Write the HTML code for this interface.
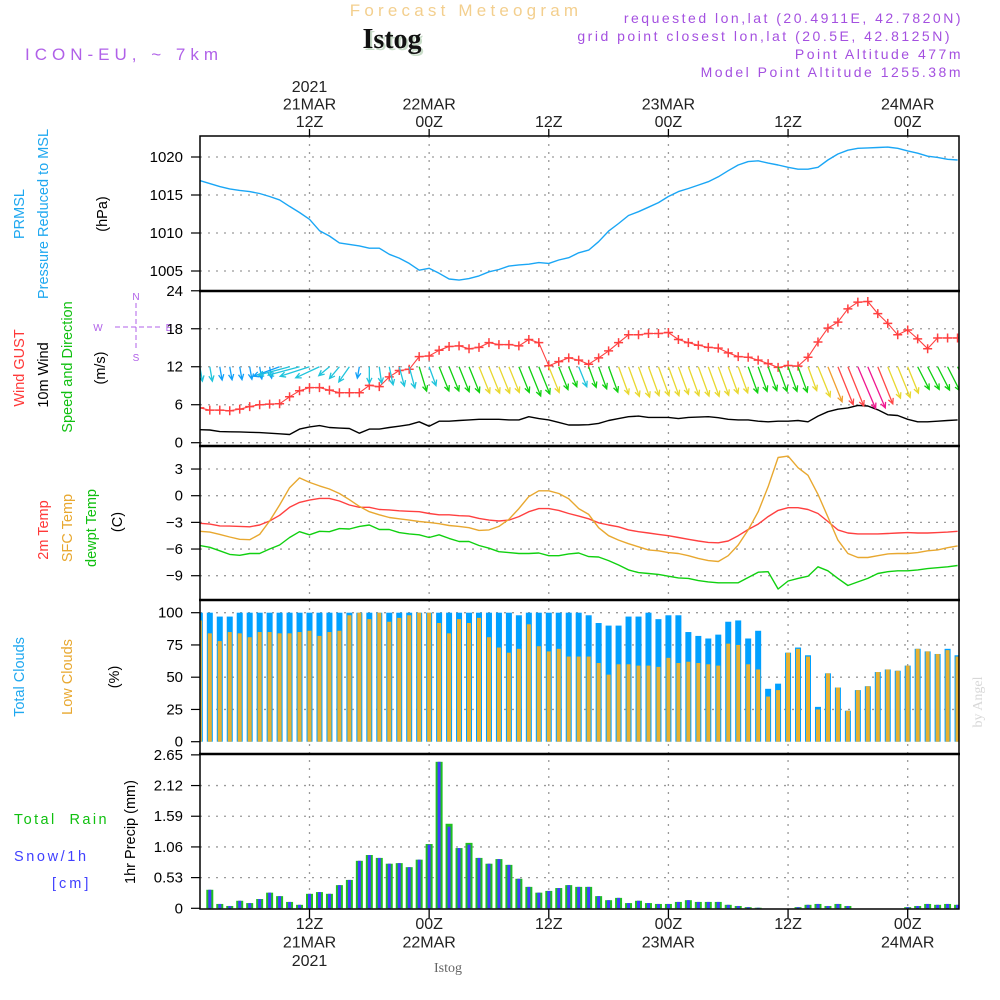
<!DOCTYPE html>
<html><head><meta charset="utf-8">
<style>
html,body{margin:0;padding:0;background:#fff;}
svg{display:block;font-family:"Liberation Sans",sans-serif;}
</style></head>
<body>
<svg id="chart" width="1000" height="1000" viewBox="0 0 1000 1000" xmlns="http://www.w3.org/2000/svg">
<defs><clipPath id="plotclip"><rect x="200" y="136" width="759" height="773"/></clipPath></defs>
<rect x="0" y="0" width="1000" height="1000" fill="#fff"/>
<text x="466" y="16" text-anchor="middle" font-size="17" fill="#f3cf8e" letter-spacing="4.2">Forecast Meteogram</text>
<text x="394" y="50" text-anchor="middle" font-size="28" font-weight="bold" font-family="Liberation Serif,serif" fill="#c8dcc8">Istog</text>
<text x="392" y="48" text-anchor="middle" font-size="28" font-weight="bold" font-family="Liberation Serif,serif" fill="#111">Istog</text>
<text x="25" y="60" font-size="17" fill="#b060e8" letter-spacing="5">ICON-EU, ~ 7km</text>
<g font-size="14" fill="#a450e0" text-anchor="end" letter-spacing="2.5">
<text x="963" y="23">requested lon,lat (20.4911E, 42.7820N)</text>
<text x="952" y="41">grid point closest lon,lat (20.5E, 42.8125N)</text>
<text x="963" y="59">Point Altitude 477m</text>
<text x="963" y="77">Model Point Altitude 1255.38m</text>
</g>
<g font-size="14.5">
<text transform="translate(24,214) rotate(-90)" text-anchor="middle" fill="#1fa8f0">PRMSL</text>
<text transform="translate(48,214) rotate(-90)" text-anchor="middle" fill="#1fa8f0">Pressure Reduced to MSL</text>
<text transform="translate(107,214) rotate(-90)" text-anchor="middle" fill="#000">(hPa)</text>
<text transform="translate(24,368) rotate(-90)" text-anchor="middle" fill="#ff3838">Wind GUST</text>
<text transform="translate(48,375) rotate(-90)" text-anchor="middle" fill="#000">10m Wind</text>
<text transform="translate(72,367) rotate(-90)" text-anchor="middle" fill="#10c010">Speed and Direction</text>
<text transform="translate(105,368) rotate(-90)" text-anchor="middle" fill="#000">(m/s)</text>
<g fill="#b060e8" stroke="none" font-size="10" text-anchor="middle">
<line x1="115" y1="327" x2="160" y2="327" stroke="#b060e8" stroke-width="1" stroke-dasharray="5,3"/>
<line x1="136" y1="303" x2="136" y2="350" stroke="#b060e8" stroke-width="1" stroke-dasharray="5,3"/>
<text x="136" y="300">N</text>
<text x="136" y="361">S</text>
<text x="98" y="331">W</text>
<text x="169" y="331">E</text>
</g>
<text transform="translate(48,530) rotate(-90)" text-anchor="middle" fill="#ff3838">2m Temp</text>
<text transform="translate(72,528) rotate(-90)" text-anchor="middle" fill="#e8a830">SFC Temp</text>
<text transform="translate(96,528) rotate(-90)" text-anchor="middle" fill="#10c010">dewpt Temp</text>
<text transform="translate(122,522) rotate(-90)" text-anchor="middle" fill="#000">(C)</text>
<text transform="translate(24,677) rotate(-90)" text-anchor="middle" fill="#1fa8f0">Total Clouds</text>
<text transform="translate(72,677) rotate(-90)" text-anchor="middle" fill="#e8a830">Low Clouds</text>
<text transform="translate(119,677) rotate(-90)" text-anchor="middle" fill="#000">(%)</text>
<text x="14" y="824" fill="#10c010" letter-spacing="2.4">Total&#160;&#160;Rain</text>
<text x="14" y="861" fill="#4040ff" letter-spacing="2.6">Snow/1h</text>
<text x="52" y="888" fill="#4040ff" letter-spacing="3">[cm]</text>
<text transform="translate(135,832) rotate(-90)" text-anchor="middle" fill="#000">1hr Precip (mm)</text>
</g>
<text transform="translate(982,702) rotate(-90)" text-anchor="middle" font-size="14" font-family="Liberation Serif,serif" fill="#d8d8d8">by Angel</text>
<text x="448" y="972" text-anchor="middle" font-size="14" font-family="Liberation Serif,serif" fill="#666">Istog</text>
<g id="layer"></g>
</svg>
<script>
// ---- data (hours since 00Z 21MAR, h = 1..77) ----
const hours = Array.from({length:77},(_, i)=>i+1);
const pressure = [1016.9,1016.5,1016.1,1015.8,1015.6,1015.45,1015.2,1014.8,1014.35,1013.5,
1012.7,1011.8,1010.3,1009.6,1008.7,1008.5,1008.3,1008.0,1008.0,1007.2,
1006.7,1006.0,1005.1,1005.35,1004.7,1003.95,1003.8,1004.0,1004.35,1004.9,
1005.2,1005.65,1005.8,1005.9,1006.1,1006.0,1006.45,1006.75,1007.4,1007.75,
1008.85,1010.25,1011.25,1012.3,1012.8,1013.4,1014.0,1014.8,1015.45,1015.85,
1016.3,1016.75,1017.4,1018.2,1018.95,1019.4,1019.5,1019.2,1018.95,1018.65,
1018.4,1018.4,1018.65,1019.6,1020.4,1020.9,1021.15,1021.2,1021.25,1021.3,
1021.15,1020.8,1020.5,1020.1,1019.95,1019.7,1019.6];
const wind10 = [2.05,2.0,1.75,1.72,1.7,1.65,1.6,1.5,1.4,1.3,
2.15,2.5,2.7,2.4,2.3,2.25,1.5,2.15,2.15,2.4,
2.6,2.85,3.3,2.6,3.4,3.4,3.5,3.6,3.7,3.7,
3.7,3.6,3.6,4.1,3.8,3.6,3.2,2.8,2.8,2.85,
3.05,3.5,3.8,4.1,4.2,4.0,4.0,4.0,3.8,4.0,
4.05,4.1,3.95,3.7,3.6,3.6,3.4,3.3,3.4,3.4,
3.5,3.3,4.2,4.9,5.3,5.5,5.9,5.8,5.2,4.4,
4.3,3.7,3.3,3.3,3.4,3.5,3.6];
const gust = [5.5,5.15,5.15,5.05,5.3,5.7,6.0,6.1,6.15,7.25,
8.2,8.7,8.7,8.3,7.9,7.9,7.9,9.05,8.85,10.4,
11.4,11.6,13.6,13.7,14.6,15.2,15.3,14.85,15.05,15.8,
15.5,15.5,15.3,16.3,15.8,12.15,12.8,13.4,13.05,12.4,
13.4,14.5,15.8,17.05,17.05,17.25,17.25,17.4,16.3,15.8,
15.4,15.05,14.95,14.2,13.6,13.5,13.05,12.5,11.9,12.2,
12.1,13.5,15.9,18.1,19.05,21.15,22.2,22.3,20.4,18.85,
17.05,17.8,16.4,14.85,16.55,16.55,16.55];
const arrowSpeed = [1.9,1.9,1.75,1.72,1.7,1.65,1.6,1.5,3.6,4.2,
4.2,4.0,3.4,1.8,2.0,2.4,1.5,2.15,2.15,2.4,
2.6,2.85,3.3,2.6,3.4,3.4,3.5,3.6,3.7,3.7,
3.7,3.6,3.6,4.1,3.8,3.6,3.2,2.8,2.8,2.85,
3.05,3.5,3.8,4.1,4.2,4.0,4.0,4.0,3.8,4.0,
4.05,4.1,3.95,3.7,3.6,3.6,3.4,3.3,3.4,3.4,
3.5,3.3,4.2,4.9,5.3,5.5,5.9,5.8,5.2,4.4,
4.3,3.7,3.3,3.3,3.4,3.5,3.6];
const windDir = [10,10,10,10,10,10,10,10,-70,-75,
-75,-72,-65,-50,-40,-35,-10,0,8,12,
15,15,17,20,22,22,22,22,22,22,
22,22,22,22,22,22,22,22,22,20,
20,20,20,20,20,20,20,20,20,20,
20,20,20,20,20,20,20,20,20,20,
20,20,22,22,22,22,23,23,22,22,
22,22,27,27,27,27,27];
const windClass = "ccbbbbbbbcccccccbcccccgcggggyyyygggyggcgggyyyyyyyyyyyyyggggggyyorrmmryyyggggg";
const t2m = [-3.1,-3.2,-3.4,-3.42,-3.45,-3.5,-3.3,-2.85,-2.2,-1.3,
-0.75,-0.5,-0.3,-0.3,-0.6,-1.05,-1.3,-1.3,-1.55,-1.6,
-1.7,-1.75,-1.8,-2.0,-2.15,-2.15,-2.25,-2.3,-2.55,-2.75,
-2.85,-2.75,-2.35,-1.8,-1.45,-1.45,-1.65,-2.0,-2.3,-2.6,
-3.05,-3.3,-3.5,-3.85,-4.05,-4.2,-4.35,-4.5,-4.7,-4.9,
-5.1,-5.25,-5.3,-5.1,-4.5,-3.8,-3.2,-2.35,-1.65,-1.35,
-1.35,-1.55,-2.0,-2.9,-3.85,-4.2,-4.3,-4.3,-4.3,-4.25,
-4.2,-4.15,-4.2,-4.2,-4.15,-4.1,-4.0];
const tsfc = [-4.0,-4.1,-4.35,-4.65,-4.9,-4.95,-4.35,-2.85,-1.05,0.9,
2.0,1.5,1.1,0.75,0.25,-0.45,-1.2,-1.8,-2.15,-2.45,
-2.6,-2.75,-2.9,-3.0,-3.15,-3.35,-3.45,-3.6,-3.9,-3.85,
-3.45,-2.65,-1.45,-0.1,0.55,0.55,0.25,-0.35,-1.45,-2.1,
-3.6,-4.5,-5.0,-5.4,-5.75,-6.1,-6.2,-6.4,-6.5,-6.75,
-7.05,-7.3,-7.4,-6.75,-5.55,-3.85,-1.8,1.0,4.3,4.45,
3.15,2.3,0.15,-2.4,-5.0,-6.5,-6.95,-6.95,-6.75,-6.55,
-6.5,-6.5,-6.4,-6.2,-6.1,-5.85,-5.65];
const tdew = [-5.6,-5.8,-6.2,-6.6,-6.7,-6.5,-6.5,-6.0,-5.55,-4.7,
-4.05,-4.4,-4.0,-4.05,-3.7,-3.75,-3.45,-3.3,-3.8,-3.8,
-4.15,-4.3,-4.4,-4.7,-4.4,-4.8,-5.15,-5.15,-5.6,-5.9,
-6.3,-6.4,-6.5,-6.5,-6.45,-6.75,-6.75,-6.55,-6.45,-6.85,
-6.9,-7.3,-7.8,-8.35,-8.65,-8.75,-8.85,-9.05,-9.25,-9.3,
-9.55,-9.7,-9.8,-9.8,-9.8,-9.2,-8.6,-8.55,-10.5,-9.6,
-9.3,-9.05,-8.0,-8.45,-9.3,-10.1,-9.7,-9.3,-8.75,-8.55,
-8.45,-8.45,-8.35,-8.2,-8.1,-8.0,-7.85];
const totalCloud = [100,100,97,97,100,100,100,100,100,100,
100,100,100,100,100,100,100,100,100,100,
100,100,100,100,100,100,100,100,100,100,
100,100,98,100,100,100,100,100,100,98,
92,90,90,97,97,100,95,98,98,85,
82,80,83,93,94,80,86,41,45,69,
73,67,27,53,42,24,40,43,54,56,
55,59,72,70,68,72,67];
const lowCloud = [94,84,78,85,84,81,85,85,84,84,
85,86,82,85,86,98,100,95,100,93,
96,98,100,100,92,84,95,92,96,81,
73,69,72,91,74,70,72,66,66,66,
61,52,60,60,59,59,58,65,61,62,
61,60,59,76,75,60,56,35,40,69,
72,66,25,53,42,24,40,43,54,56,
55,59,72,70,68,71,66];
const precip = [0,0.32,0.075,0.04,0.13,0.09,0.16,0.27,0.21,0.11,
0.06,0.25,0.28,0.25,0.40,0.49,0.82,0.92,0.87,0.77,
0.78,0.71,0.84,1.11,2.53,1.46,1.04,1.13,0.87,0.77,
0.85,0.75,0.51,0.37,0.27,0.30,0.35,0.40,0.37,0.37,
0.21,0.14,0.18,0.09,0.13,0.09,0.075,0.075,0.11,0.14,
0.11,0.11,0.11,0.06,0.04,0.02,0.01,0,0,0,
0.02,0.06,0.075,0.04,0.075,0.04,0,0,0,0,
0,0.02,0.04,0.075,0.06,0.075,0.06];
const snow = [0,0.32,0.075,0.04,0.13,0.09,0.16,0.27,0.21,0.11,
0.06,0.25,0.28,0.25,0.40,0.49,0.82,0.92,0.87,0.77,
0.78,0.71,0.84,1.10,2.53,1.41,1.04,1.10,0.87,0.77,
0.85,0.75,0.51,0.37,0.27,0.30,0.35,0.40,0.37,0.37,
0.21,0.14,0.18,0.09,0.13,0.09,0.075,0.075,0.11,0.14,
0.11,0.11,0.11,0.06,0.04,0.02,0.01,0,0,0,
0.02,0.06,0.075,0.04,0.075,0.04,0,0,0,0,
0,0.02,0.04,0.075,0.06,0.075,0.06];
const pressTicks = [1005,1010,1015,1020];
const windTicks = [0,6,12,18,24];
const tempTicks = [3,0,-3,-6,-9];
const cloudTicks = [0,25,50,75,100];
const precipTicks = [0,0.53,1.06,1.59,2.12,2.65];
const timeTickHours = [12,24,36,48,60,72];
const topLabels = [["2021","21MAR","12Z"],["","22MAR","00Z"],["","","12Z"],["","23MAR","00Z"],["","","12Z"],["","24MAR","00Z"]];
const bottomLabels = [["12Z","21MAR","2021"],["00Z","22MAR",""],["12Z","",""],["00Z","23MAR",""],["12Z","",""],["00Z","24MAR",""]];

// ---- scales ----
const X = h => 309.5 + (h-12)*9.97;
const yP = p => 271 - (p-1005)*7.6;
const yW = v => 442.7 - v*6.33;
const yT = t => 495.7 - t*8.89;
const yC = c => 741.7 - c*1.29;
const yR = r => 908.3 - r*57.9;
const L = 200, R = 959;
const NS="http://www.w3.org/2000/svg";
const layer=document.getElementById('layer');
function mk(tag,attrs,parent){const e=document.createElementNS(NS,tag);for(const k in attrs)e.setAttribute(k,attrs[k]);(parent||layer).appendChild(e);return e;}

// grid
const grid=mk('g',{stroke:'#9a9a9a','stroke-width':1.3,'stroke-dasharray':'2,6'});


function hgrid(y){mk('line',{x1:L,x2:R,y1:y,y2:y},grid);}
pressTicks.forEach(v=>hgrid(yP(v)));
windTicks.slice(0,4).forEach(v=>hgrid(yW(v)));
tempTicks.forEach(v=>hgrid(yT(v)));
cloudTicks.slice(1).forEach(v=>hgrid(yC(v)));
precipTicks.slice(1,5).forEach(v=>hgrid(yR(v)));
timeTickHours.forEach(h=>mk('line',{x1:X(h),x2:X(h),y1:136,y2:909},grid));

const plot=mk('g',{'clip-path':'url(#plotclip)'});



hours.forEach((h,i)=>{
  const x=X(h);
  const b=mk('rect',{x:x-3,y:yC(totalCloud[i]),width:6,height:yC(0)-yC(totalCloud[i]),fill:'#00a0ff'},plot);
  
  
  const o=mk('rect',{x:x-2,y:yC(lowCloud[i]),width:4,height:yC(0)-yC(lowCloud[i]),fill:'#e8b030'},plot);
  
  
  const g=mk('rect',{x:x-3.5,y:yR(precip[i]),width:7,height:yR(0)-yR(precip[i]),fill:'#20c020'},plot);
  
  
  const s=mk('rect',{x:x-1.5,y:yR(snow[i]),width:3,height:yR(0)-yR(snow[i]),fill:'#4040ff'},plot);
  
  
});

function line(vals,ys,color,name,w){
  const d=vals.map((v,i)=>(i?'L':'M')+X(hours[i]).toFixed(1)+','+ys(v).toFixed(1)).join('');
  const p=mk('path',{d:d,fill:'none',stroke:color,'stroke-width':w||1.4,'stroke-linejoin':'round'},plot);
  
  
  return p;
}
line(pressure,yP,'#1aa6f5','pressure-line');
line(wind10,yW,'#000','wind10-line');
line(gust,yW,'#ff4040','gust-line',1.1);
hours.forEach((h,i)=>{
  const x=X(h),y=yW(gust[i]);
  const m=mk('path',{d:`M${x-4.5},${y}H${x+4.5}M${x},${y-4.5}V${y+4.5}`,stroke:'#ff4040','stroke-width':1.5},plot);
  
  
});
const arrowColors={b:'#10a0f8',c:'#20c4dc',g:'#10d010',y:'#e8d830',o:'#f0a030',r:'#ff4848',m:'#f01890'};
hours.forEach((h,i)=>{
  const x0=X(h),y0=yW(12);
  const len=arrowSpeed[i]*7.7, a=windDir[i]*Math.PI/180;
  const x1=x0+len*Math.sin(a), y1=y0+len*Math.cos(a);
  const back=a+Math.PI, hl=6;
  const p1x=x1+hl*Math.sin(back-0.45), p1y=y1+hl*Math.cos(back-0.45);
  const p2x=x1+hl*Math.sin(back+0.45), p2y=y1+hl*Math.cos(back+0.45);
  const ar=mk('path',{d:`M${x0},${y0}L${x1},${y1}M${p1x},${p1y}L${x1},${y1}L${p2x},${p2y}`,fill:'none',stroke:arrowColors[windClass[i]],'stroke-width':1.3},plot);
  
  
});
line(t2m,yT,'#ff4040','temp-2m-line');
line(tsfc,yT,'#e8a830','temp-sfc-line');
line(tdew,yT,'#10d010','dewpoint-line');

const fr=mk('g',{stroke:'#000',fill:'none'});


mk('rect',{x:L,y:136,width:R-L,height:773,'stroke-width':1.5},fr);
[291,446,600,754].forEach(y=>mk('line',{x1:L-1,x2:R+1,y1:y,y2:y,'stroke-width':2.6},fr));

const ax=mk('g',{'font-size':15,fill:'#000','text-anchor':'end'});


function yt(v,y,label){mk('line',{x1:L-9,x2:L,y1:y,y2:y,stroke:'#000','stroke-width':1.2},ax);const t=mk('text',{x:L-17,y:y+5},ax);t.textContent=label;}
pressTicks.forEach(v=>yt(v,yP(v),String(v)));
windTicks.forEach(v=>yt(v,yW(v),String(v)));
tempTicks.forEach(v=>yt(v,yT(v),v<0?'\u2212'+Math.abs(v):String(v)));
cloudTicks.forEach(v=>yt(v,yC(v),String(v)));
precipTicks.forEach(v=>yt(v,yR(v),v===0?'0':v.toFixed(2)));

const tx=mk('g',{'font-size':16,fill:'#222','text-anchor':'middle'});


timeTickHours.forEach((h,i)=>{
  const x=X(h);
  mk('line',{x1:x,x2:x,y1:129,y2:136,stroke:'#000','stroke-width':1.3},tx);
  mk('line',{x1:x,x2:x,y1:909,y2:918,stroke:'#000','stroke-width':1.3},tx);
  topLabels[i].forEach((s,j)=>{if(s){const t=mk('text',{x:x,y:92+j*17.5},tx);t.textContent=s;}});
  bottomLabels[i].forEach((s,j)=>{if(s){const t=mk('text',{x:x,y:929+j*18.5},tx);t.textContent=s;}});
});
</script>
</body></html>
